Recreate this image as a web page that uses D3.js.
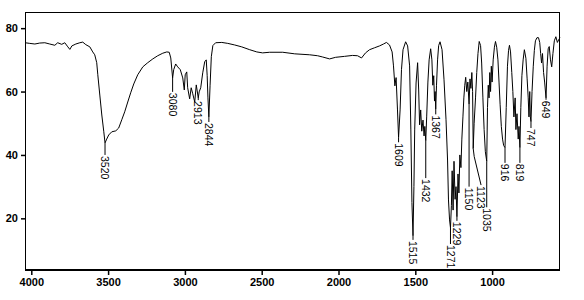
<!DOCTYPE html>
<html><head><meta charset="utf-8">
<script src="https://cdn.jsdelivr.net/npm/d3@7"></script>
<style>body{margin:0;background:#fff} svg{display:block}</style>
</head><body>
<svg id="c" width="584" height="300"></svg>
<script>
// ---- data ----
const wavenumbers = [4041,4010,3977,3945,3912,3880,3847,3828,3802,3782,3762,3749,3736,3710,3684,3665,3645,3619,3600,3587,3574,3567,3554,3541,3528,3520,3509,3496,3476,3450,3431,3411,3392,3372,3353,3333,3307,3274,3242,3209,3177,3144,3118,3102,3092,3080,3073,3060,3047,3030,3014,3004,2998,2988,2982,2969,2959,2949,2936,2926,2913,2907,2897,2884,2871,2861,2855,2850,2844,2836,2828,2818,2800,2760,2721,2676,2630,2578,2532,2494,2448,2363,2285,2188,2136,2103,2058,2019,1961,1909,1876,1850,1824,1798,1766,1733,1707,1688,1668,1651,1642,1633,1625,1616,1609,1599,1590,1580,1563,1550,1537,1529,1522,1515,1509,1504,1495,1485,1478,1472,1465,1458,1450,1443,1438,1432,1426,1418,1410,1400,1392,1386,1380,1375,1371,1367,1362,1355,1348,1339,1326,1313,1300,1290,1284,1277,1271,1265,1260,1254,1248,1241,1235,1229,1222,1216,1210,1203,1197,1190,1184,1178,1172,1165,1158,1150,1144,1138,1132,1127,1123,1117,1108,1100,1092,1084,1075,1068,1060,1052,1044,1035,1030,1025,1020,1015,1010,1005,1000,993,985,978,970,962,955,948,940,932,925,916,908,900,893,887,880,872,865,858,850,845,838,830,825,819,813,806,798,790,780,772,765,760,755,751,747,740,732,725,718,708,698,690,684,678,672,665,658,649,642,635,628,620,612,604,595,585,575,565,558];
const transmittance = [75.4,75.2,75.0,75.3,75.4,75.0,74.6,75.4,74.9,75.4,74.1,73.3,74.4,75.0,75.4,75.6,74.8,74.1,72.5,71.6,69.1,65.3,58.9,52.6,47.3,43.8,45.0,46.3,47.3,47.6,48.5,51.1,53.6,56.7,59.6,62.4,65.3,67.8,69.1,70.3,71.3,72.1,72.5,72.4,70.6,64.3,66.9,68.7,67.8,66.9,64.3,60.5,65.3,66.2,61.2,57.7,61.2,59.3,56.7,62.1,58.0,59.9,61.2,65.9,69.4,70.0,65,58,52.0,62,71,74.5,75.4,75.5,75.2,74.7,74.1,73.2,72.5,72.2,72.4,72.4,71.9,71.6,71.3,70.9,70.3,70.8,71.1,71.4,71.3,70.6,72.2,73.2,73.8,74.4,75.0,75.5,74.7,72.5,68.1,61.8,64.4,54.2,45.5,54.2,66.9,73.2,75.7,74.4,68.1,47.9,25,14.5,30,47.9,62.7,69.1,60.5,49.5,54.2,47.5,51.0,46.0,49.0,44.5,52,63,70,73.5,70,62,65,57,60,54.5,62,70,74.5,75.7,73.2,63.7,51.1,38.4,25.8,19.5,17.0,24,35,22.6,38,26,30,20.5,34,28,40,36,45,52,58,62,64.5,60,63,56,64,61,66,60,42,50,58,66,72,75.8,74.5,69,58,48,41,38,55,62,58,66,60,68,63,70,74,75.8,74,70,63,56,49,45,43,42.3,55,68,73,74.6,72.5,66,60,52,58,48,53,45,49,42.3,55,65,70,73.2,70.5,64,58,52,60,52,50.5,60,68,73,76,77,77,75.5,72,69,72,66,63,58,68,73.5,74.2,70,67.8,72,76,77.3,75.5,76.5,77];
const xTicks = [4000,3500,3000,2500,2000,1500,1000];
const yTicks = [20,40,60,80];
const peakLabels = ["3520","3080","2913","2844","1609","1515","1432","1367","1271","1229","1150","1123","1035","916","819","747","649"];
const peakWn     = [3520,3080,2913,2844,1609,1515,1432,1367,1271,1229,1150,1123,1035,916,819,747,649];
const labelWn    = [3520,3080,2913,2844,1609,1515,1432,1367,1271,1229,1150,1072,1035,916,819,747,649];
const labelT     = [40.0,59.9,57.3,50.4,44.0,13.2,32.7,52.8,11.9,19.2,30.0,30.5,23.5,37.5,37.5,48.5,57.4];

// ---- chart ----
const svg = d3.select("#c");
const L=25, R=560, T=12, B=270;
const x = d3.scaleLinear().domain([4041,558]).range([L,R]);
const y = d3.scaleLinear().domain([3.7,85.1]).range([B,T]);
const font = "'Liberation Sans', Arial, sans-serif";

const pts = wavenumbers.map((w,i)=>[w,transmittance[i]]);
svg.append("path").datum(pts)
  .attr("fill","none").attr("stroke","#000").attr("stroke-width",1)
  .attr("stroke-linejoin","miter")
  .attr("d", d3.line().x(d=>x(d[0])).y(d=>y(d[1])));

// frame
svg.append("rect").attr("x",L+0.5).attr("y",T+0.5).attr("width",R-L-1).attr("height",B-T)
  .attr("fill","none").attr("stroke","#000").attr("stroke-width",1);
svg.append("line").attr("x1",L).attr("x2",R).attr("y1",B).attr("y2",B)
  .attr("stroke","#000").attr("stroke-width",2);

// axes
const gx = svg.append("g").attr("transform",`translate(0,${B+1})`)
  .call(d3.axisBottom(x).tickValues(xTicks).tickSize(4).tickPadding(3).tickFormat(d3.format("d")));
const gy = svg.append("g").attr("transform",`translate(${L},0)`)
  .call(d3.axisLeft(y).tickValues(yTicks).tickSize(4).tickPadding(3).tickFormat(d3.format("d")));
[gx,gy].forEach(g=>{
  g.select(".domain").remove();
  g.selectAll("line").attr("stroke","#000").attr("stroke-width",1.5);
  g.selectAll("text").attr("fill","#000").style("font-family",font)
   .style("font-size","11px").style("font-weight","bold");
});

// peak labels
const lab = svg.append("g");
peakLabels.forEach((t,i)=>{
  const idx = wavenumbers.indexOf(peakWn[i]);
  const px = x(peakWn[i]), py = y(transmittance[idx]);
  const lx = x(labelWn[i]), ly = y(labelT[i]);
  lab.append("path")
    .attr("d", labelWn[i]===peakWn[i] ? `M${px},${py}V${ly}` : `M${px},${py}L${px+1},${py+8}L${lx},${ly}`)
    .attr("fill","none").attr("stroke","#000").attr("stroke-width",1);
  lab.append("text").text(t)
    .attr("transform",`translate(${lx},${ly+1}) rotate(90)`)
    .attr("dy","0.36em")
    .attr("text-anchor","start")
    .style("font-family",font).style("font-size","10.5px").attr("fill","#000");
});
</script>
</body></html>
